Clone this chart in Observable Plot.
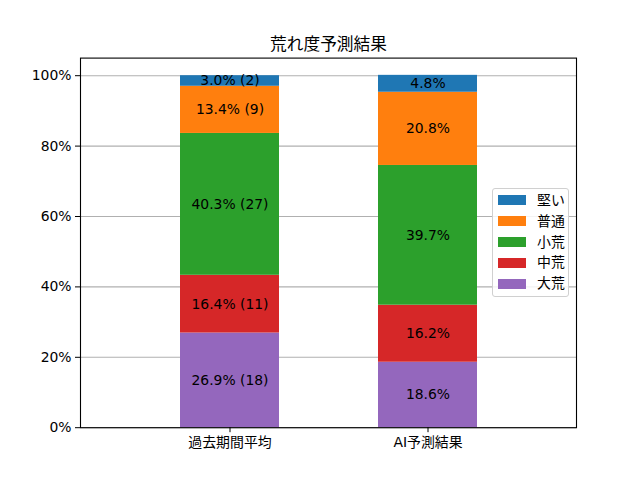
<!DOCTYPE html>
<html>
<head>
<meta charset="utf-8">
<script src="https://cdn.jsdelivr.net/npm/d3@7"></script>
<script src="https://cdn.jsdelivr.net/npm/@observablehq/plot@0.6"></script>
<style>
  html, body { margin: 0; padding: 0; background: white; }
  #wrap { position: relative; width: 640px; height: 480px; font-family: "DejaVu Sans", "Noto Sans CJK JP", sans-serif; }
  #legend { position: absolute; left: 492px; top: 188px; width: 77px; height: 109px; box-sizing: border-box;
    border: 1px solid #d0d0d0; border-radius: 3px; background: rgba(255,255,255,0.85); padding: 1px 0 0 5px; overflow: hidden; }
  .row { display: flex; align-items: center; height: 20.8px; line-height: 20.8px; font-size: 13.9px; color: black; overflow: visible; }
  .sw { width: 28px; height: 10px; margin-right: 11px; flex: none; }
</style>
</head>
<body>
<div id="wrap"></div>
<script>
const title = "荒れ度予測結果";
const categories = ["過去期間平均", "AI予測結果"];
const levels = ["大荒", "中荒", "小荒", "普通", "堅い"];
const colors = ["#9467bd", "#d62728", "#2ca02c", "#ff7f0e", "#1f77b4"];
const pastPct = [26.9, 16.4, 40.3, 13.4, 3.0];
const pastCount = [18, 11, 27, 9, 2];
const aiPct = [18.6, 16.2, 39.7, 20.8, 4.8];
const yTicks = [0, 20, 40, 60, 80, 100];

const rows = [];
levels.forEach((lv, i) => rows.push({cat: categories[0], level: lv, value: pastPct[i], label: `${pastPct[i].toFixed(1)}% (${pastCount[i]})`}));
levels.forEach((lv, i) => rows.push({cat: categories[1], level: lv, value: aiPct[i], label: `${aiPct[i].toFixed(1)}%`}));

const chart = Plot.plot({
  width: 640,
  height: 480,
  marginLeft: 80,
  marginRight: 64,
  marginTop: 57.6,
  marginBottom: 52.8,
  style: {fontFamily: '"DejaVu Sans", "Noto Sans CJK JP", sans-serif', fontSize: "13.9px", color: "black", background: "white"},
  x: {domain: categories, padding: 0.5, label: null},
  y: {domain: [0, 105], label: null},
  color: {domain: levels, range: colors},
  marks: [
    Plot.gridY(yTicks, {stroke: "#b0b0b0", strokeOpacity: 1, strokeWidth: 1.1}),
    Plot.barY(rows, {x: "cat", y: "value", fill: "level", order: null}),
    Plot.text(rows, Plot.stackY({x: "cat", y: "value", z: "level", order: null, text: "label", fill: "black", fontSize: 13.9})),
    Plot.axisY({ticks: yTicks, tickFormat: d => d + "%", tickSize: 5, tickPadding: 4, label: null, fontSize: 13.9}),
    Plot.axisX({tickSize: 5, tickPadding: 4, label: null, fontSize: 13.9}),
    Plot.frame({stroke: "black", strokeWidth: 1.1}),
    Plot.text([title], {frameAnchor: "top", dy: -8, lineAnchor: "bottom", fontSize: 16.7, fill: "black"})
  ]
});
const wrap = document.getElementById("wrap");
wrap.appendChild(chart);

const legend = document.createElement("div");
legend.id = "legend";
levels.slice().reverse().forEach((lv) => {
  const r = document.createElement("div");
  r.className = "row";
  const sw = document.createElement("div");
  sw.className = "sw";
  sw.style.background = colors[levels.indexOf(lv)];
  const t = document.createElement("span");
  t.textContent = lv;
  r.appendChild(sw); r.appendChild(t);
  legend.appendChild(r);
});
wrap.appendChild(legend);
</script>
</body>
</html>
